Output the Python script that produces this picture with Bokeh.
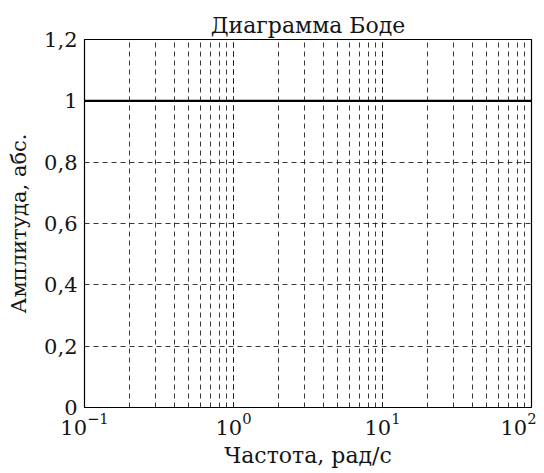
from bokeh.plotting import figure
from bokeh.models import FixedTicker, LogTicker, Range1d
from bokeh.embed import file_html
from bokeh.resources import INLINE

# Data
freq = [0.1, 0.2, 0.5, 1, 2, 5, 10, 20, 50, 100]
amplitude = [1, 1, 1, 1, 1, 1, 1, 1, 1, 1]
y_ticks = [0, 0.2, 0.4, 0.6, 0.8, 1, 1.2]
y_tick_labels = ["0", "0,2", "0,4", "0,6", "0,8", "1", "1,2"]
title_text = "Диаграмма Боде"
x_label = "Частота, рад/с"
y_label = "Амплитуда, абс."

FONT = "DejaVu Serif"
INK = "#151515"

p = figure(width=536, height=470, x_axis_type="log",
           x_range=Range1d(0.1, 100), y_range=Range1d(0, 1.2),
           output_backend="svg", toolbar_location=None,
           min_border_left=84, min_border_right=5,
           min_border_top=39, min_border_bottom=60)

p.title.text = title_text
p.title.align = "center"
p.title.text_font = FONT
p.title.text_font_size = "22px"
p.title.text_font_style = "normal"
p.title.text_color = INK
p.title.standoff = 4

p.line(freq, amplitude, line_color="black", line_width=2.4)

p.outline_line_color = "black"
p.outline_line_width = 1.2
p.outline_line_alpha = 1

# x axis
xa = p.xaxis[0]
xa.ticker = LogTicker(num_minor_ticks=10)
xa.axis_label = x_label
xa.axis_label_text_font = FONT
xa.axis_label_text_font_size = "22px"
xa.axis_label_text_font_style = "normal"
xa.axis_label_text_color = INK
xa.axis_label_standoff = 5
xa.major_label_text_font = FONT
xa.major_label_text_font_size = "21px"
xa.major_label_text_color = INK
xa.major_tick_out = 0
xa.major_tick_in = 0
xa.minor_tick_out = 0
xa.minor_tick_in = 0
xa.axis_line_color = None
xa.major_label_standoff = 5

# y axis
ya = p.yaxis[0]
ya.ticker = FixedTicker(ticks=y_ticks)
ya.major_label_overrides = {t: l for t, l in zip(y_ticks, y_tick_labels)}
ya.axis_label = y_label
ya.axis_label_text_font = FONT
ya.axis_label_text_font_size = "21px"
ya.axis_label_text_font_style = "normal"
ya.axis_label_text_color = INK
ya.axis_label_standoff = 10
ya.major_label_text_font = FONT
ya.major_label_text_font_size = "21px"
ya.major_label_text_color = INK
ya.major_tick_out = 0
ya.major_tick_in = 0
ya.minor_tick_out = 0
ya.minor_tick_in = 0
ya.axis_line_color = None
ya.major_label_standoff = 7

# grids
for g in (p.xgrid[0], p.ygrid[0]):
    g.grid_line_color = "#222222"
    g.grid_line_dash = "5 4"
    g.grid_line_width = 1
    g.grid_line_alpha = 0.9
p.xgrid[0].minor_grid_line_color = "#222222"
p.xgrid[0].minor_grid_line_dash = "5 4"
p.xgrid[0].minor_grid_line_width = 1
p.xgrid[0].minor_grid_line_alpha = 0.9

open("out.html", "w").write(file_html(p, INLINE))
